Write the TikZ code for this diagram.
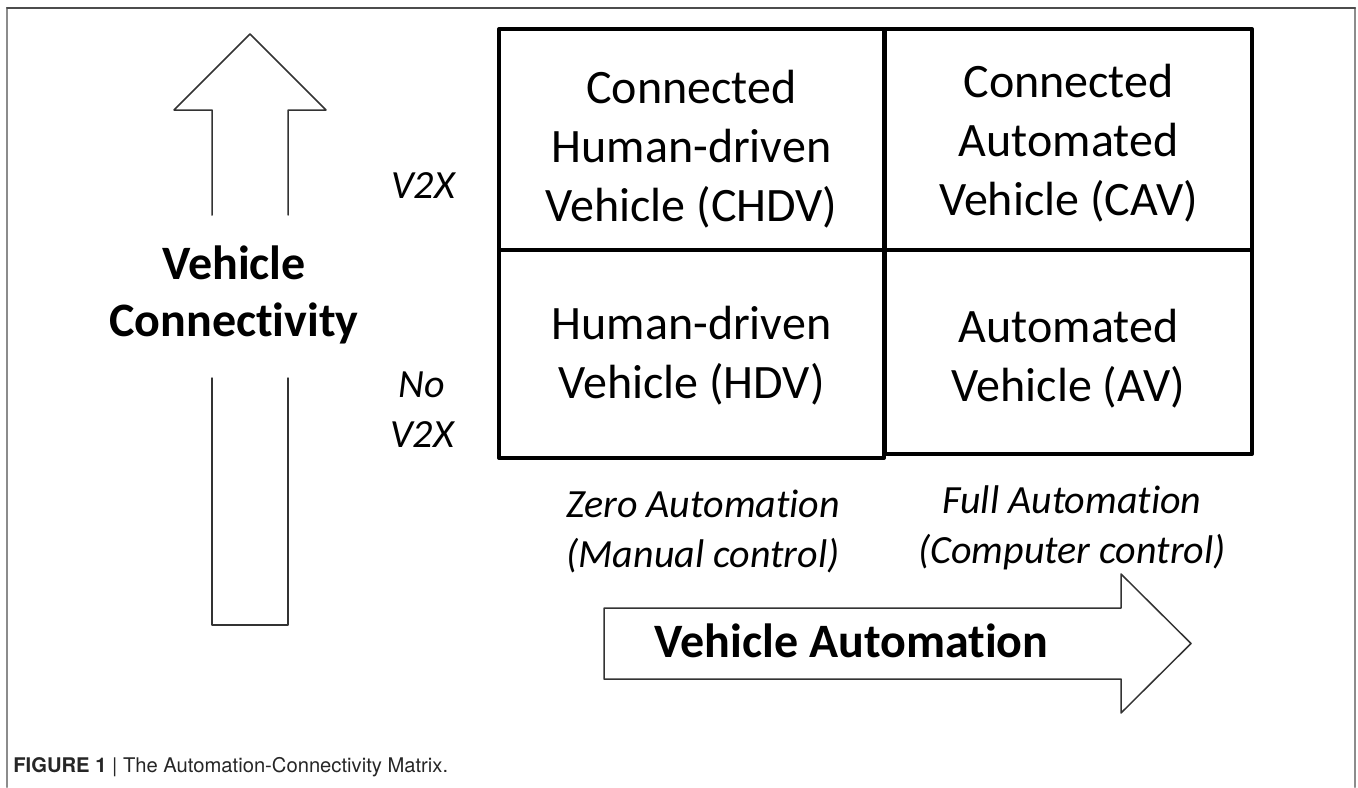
\documentclass[tikz,border=0pt]{standalone}
\usepackage{fontspec}
\setmainfont{Carlito}[Ligatures=CommonOff]
\newfontfamily\capfont{TeX Gyre Heros}

\tikzset{
  gridline/.style={line width=2pt, line cap=rect},
  celltext/.style={align=center, inner sep=0pt, font=\fontsize{24}{29.5}\selectfont},
  axisname/.style={align=center, inner sep=0pt, font=\fontsize{24}{28.5}\selectfont\bfseries},
  sidenote/.style={align=center, inner sep=0pt, font=\fontsize{20}{25}\selectfont\itshape},
  hollow/.style={draw=black!80, line width=0.75pt},
}

\begin{document}
\begin{tikzpicture}[line cap=round,line join=round,x=0.5pt,y=-0.5pt]
  \useasboundingbox (0,0) rectangle (1358,787);

  % frame of the figure
  \draw[black!45, line width=1pt] (7,787) -- (7,8);
  \draw[black!45, line width=1pt] (1355,8) -- (1355,787);
  \draw[black!70, line width=1pt] (7,8) -- (1355,8);

  % the 2x2 matrix, one column at a time
  \draw[gridline] (499,29) rectangle (884,458) (499,250) -- (884,250);
  \draw[gridline] (885,29) rectangle (1252,454) (885,250) -- (1252,250);
  \node[celltext] (chdv) at (691.5,149) {Connected\\Human-driven\\Vehicle (CHDV)};
  \node[celltext] (cav) at (1068.5,143) {Connected\\Automated\\Vehicle (CAV)};
  \node[celltext] (hdv) at (691.5,355.5) {Human-driven\\Vehicle (HDV)};
  \node[celltext] (av) at (1068.5,359) {Automated\\Vehicle (AV)};

  % connectivity axis (upward arrow, broken for its name)
  \draw[hollow] (212,215) -- (212,110) -- (174,110) -- (250,34) -- (326,110) -- (288,110) -- (288,215);
  \draw[hollow] (212,378) -- (212,625) -- (288,625) -- (288,378);
  \node[axisname] (conn) at (234,294.5) {Vehicle\\Connectivity};
  \node[sidenote] (v2x) at (423,185.5) {V2X};
  \node[sidenote] (nov2x) at (422,410) {No\\V2X};

  % automation axis (right arrow)
  \draw[hollow] (1121,608) -- (604,608) -- (604,679) -- (1121,679) -- (1121,713) -- (1191,643.5) -- (1121,574) -- cycle;
  \node[axisname, anchor=base] (auto) at (851.5,657) {Vehicle Automation};
  \node[sidenote] (zero) at (703,531) {Zero Automation\\(Manual control)};
  \node[sidenote] (full) at (1072,528) {Full Automation\\(Computer control)};

  % caption
  \node[anchor=base west, inner sep=0pt, text=black!85] (caption) at (13,772)
    {\capfont\fontsize{10.1}{12}\selectfont\textbf{FIGURE 1} | The Automation-Connectivity Matrix.};
\end{tikzpicture}
\end{document}
